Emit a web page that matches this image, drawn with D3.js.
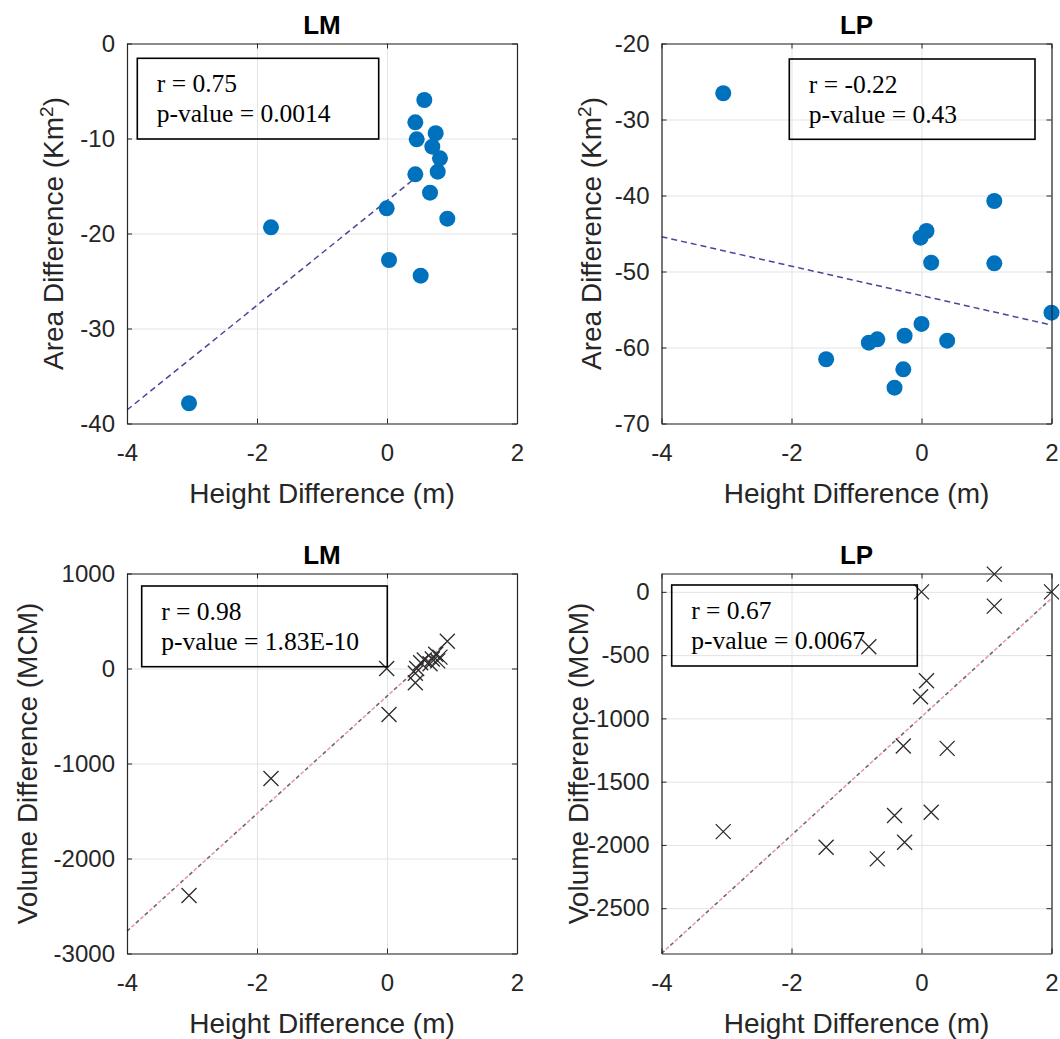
<!DOCTYPE html>
<html>
<head>
<meta charset="utf-8">
<script src="https://cdn.jsdelivr.net/npm/d3@7"></script>
<style>
  body { margin: 0; background: #fff; }
  svg { display: block; }
</style>
</head>
<body>
<svg id="chart" width="1060" height="1039"></svg>
<script>
// ---------- DATA ----------
// LM station
const lmHeight = [0.574, 0.436, 0.749, 0.457, 0.697, 0.815, 0.78, 0.436, 0.662, -0.005, 0.928, -1.785, 0.031, 0.518, -3.046];
const lmArea   = [-5.95, -8.3, -9.45, -10.09, -10.86, -12.09, -13.49, -13.77, -15.7, -17.35, -18.44, -19.35, -22.79, -24.44, -37.87];
const lmVolume = [90, -50, 150, 0, 100, 120, 80, -150, 50, 0, 287, -1158, -484, 60, -2389];
// LP station
const lpHeight = [-3.05, 1.12, 1.12, 0.077, -0.015, 0.0, 0.149, 2.0, -0.26, 0.395, -0.68, -0.81, -1.467, -0.28, -0.415];
const lpArea   = [-26.55, -40.72, -48.92, -44.67, -45.55, -56.9, -48.84, -55.42, -58.45, -59.1, -58.93, -59.37, -61.55, -62.87, -65.29];
const lpVolume = [-1895, 140, -113, -703, -829, 0, -1742, 0, -1979, -1237, -2110, -434, -2018, -1218, -1768];

// fitted regression line endpoints [x, y]
const lmAreaFit = [[-4, -38.58], [0.5, -13.8]];
const lpAreaFit = [[-4, -45.42], [2, -57.04]];
const lmVolFit  = [[-4, -2765], [0.93, 284]];
const lpVolFit  = [[-4, -2858], [2, -52]];

// statistics text
const lmAreaStats = ["r = 0.75", "p-value = 0.0014"];
const lpAreaStats = ["r = -0.22", "p-value = 0.43"];
const lmVolStats  = ["r = 0.98", "p-value = 1.83E-10"];
const lpVolStats  = ["r = 0.67", "p-value = 0.0067"];

// ticks
const xTicks = [-4, -2, 0, 2];
const lmAreaTicks = [-40, -30, -20, -10, 0];
const lpAreaTicks = [-70, -60, -50, -40, -30, -20];
const lmVolTicks = [-3000, -2000, -1000, 0, 1000];
const lpVolTicks = [-2500, -2000, -1500, -1000, -500, 0];

const titles = ["LM", "LP"];
const xLabel = "Height Difference (m)";

// ---------- DRAW ----------
const svg = d3.select("#chart");
const axisCol = "#262626";
const gridCol = "#e3e3e3";
const fontSans = "Arial, 'Liberation Sans', sans-serif";
const fontSerif = "'Times New Roman', 'Liberation Serif', serif";
const fmt = d => String(d);   // plain hyphen-minus like MATLAB

function panel(cfg) {
  const {x0, y0, w, h, xDom, yDom, yTicks, xs, ys, fit, stats, box, title, yLabel, yLabelX, marker, fitStyle} = cfg;
  const g = svg.append("g");
  const x = d3.scaleLinear().domain(xDom).range([x0, x0 + w]);
  const y = d3.scaleLinear().domain(yDom).range([y0 + h, y0]);

  // grid
  g.append("g").attr("transform", `translate(0,${y0 + h})`)
    .call(d3.axisBottom(x).tickValues(xTicks).tickSize(-h).tickFormat(""))
    .call(s => { s.select(".domain").remove(); s.selectAll("line").attr("stroke", gridCol).attr("stroke-width", 1); });
  g.append("g").attr("transform", `translate(${x0},0)`)
    .call(d3.axisLeft(y).tickValues(yTicks).tickSize(-w).tickFormat(""))
    .call(s => { s.select(".domain").remove(); s.selectAll("line").attr("stroke", gridCol).attr("stroke-width", 1); });

  // fit line
  const lineGen = d3.line().x(d => x(d[0])).y(d => y(d[1]));
  if (fitStyle === "blue") {
    g.append("path").datum(fit).attr("d", lineGen).attr("fill", "none")
      .attr("stroke", "#47479a").attr("stroke-width", 1.5).attr("stroke-dasharray", "6,4");
  } else {
    g.append("path").datum(fit).attr("d", lineGen).attr("fill", "none")
      .attr("stroke", "#f09aaa").attr("stroke-width", 1.6).attr("stroke-dasharray", "4,8").attr("stroke-dashoffset", 6);
    g.append("path").datum(fit).attr("d", lineGen).attr("fill", "none")
      .attr("stroke", "#6a6a6a").attr("stroke-width", 1.6).attr("stroke-dasharray", "4,8");
  }

  // markers
  const pts = xs.map((v, i) => [v, ys[i]]);
  if (marker === "circle") {
    g.selectAll("circle.pt").data(pts).join("circle").attr("class", "pt")
      .attr("cx", d => x(d[0])).attr("cy", d => y(d[1])).attr("r", 8)
      .attr("fill", "#0072BD");
  } else {
    const s = 7.5;
    g.selectAll("path.pt").data(pts).join("path").attr("class", "pt")
      .attr("d", d => {
        const cx = x(d[0]), cy = y(d[1]);
        return `M${cx - s},${cy - s}L${cx + s},${cy + s}M${cx - s},${cy + s}L${cx + s},${cy - s}`;
      })
      .attr("stroke", "#2b2b2b").attr("stroke-width", 1.3).attr("fill", "none");
  }

  // axes (box with inward ticks)
  const tickLen = 5;
  const styleAxis = s => {
    s.select(".domain").attr("stroke", axisCol).attr("stroke-width", 1.2);
    s.selectAll(".tick line").attr("stroke", axisCol).attr("stroke-width", 1);
    s.selectAll("text").attr("fill", axisCol).attr("font-family", fontSans).attr("font-size", 24);
  };
  g.append("g").attr("transform", `translate(0,${y0 + h})`)
    .call(d3.axisBottom(x).tickValues(xTicks).tickSizeInner(-tickLen).tickSizeOuter(0).tickPadding(20).tickFormat(fmt))
    .call(styleAxis);
  g.append("g").attr("transform", `translate(0,${y0})`)
    .call(d3.axisTop(x).tickValues(xTicks).tickSizeInner(-tickLen).tickSizeOuter(0).tickFormat(""))
    .call(styleAxis);
  g.append("g").attr("transform", `translate(${x0},0)`)
    .call(d3.axisLeft(y).tickValues(yTicks).tickSizeInner(-tickLen).tickSizeOuter(0).tickPadding(12).tickFormat(fmt))
    .call(styleAxis);
  g.append("g").attr("transform", `translate(${x0 + w},0)`)
    .call(d3.axisRight(y).tickValues(yTicks).tickSizeInner(-tickLen).tickSizeOuter(0).tickFormat(""))
    .call(styleAxis);

  // title
  g.append("text").attr("x", x0 + w / 2).attr("y", y0 - 9.5).attr("text-anchor", "middle")
    .attr("font-family", fontSans).attr("font-weight", "bold").attr("font-size", 26).attr("fill", "#000")
    .text(title);

  // x label
  g.append("text").attr("x", x0 + w / 2).attr("y", y0 + h + 79).attr("text-anchor", "middle")
    .attr("font-family", fontSans).attr("font-size", 28).attr("fill", axisCol).text(xLabel);

  // y label
  const yl = g.append("text")
    .attr("transform", `translate(${yLabelX},${y0 + h / 2}) rotate(-90)`)
    .attr("text-anchor", "middle")
    .attr("font-family", fontSans).attr("font-size", 28).attr("fill", axisCol);
  yLabel.forEach(part => {
    const t = yl.append("tspan").text(part.t);
    if (part.sup) t.attr("baseline-shift", "super").attr("font-size", 19);
  });

  // stats box
  g.append("rect").attr("x", box[0]).attr("y", box[1]).attr("width", box[2]).attr("height", box[3])
    .attr("fill", "none").attr("stroke", "#000").attr("stroke-width", 1.6);
  stats.forEach((s, i) => {
    g.append("text").attr("x", box[0] + 19.5).attr("y", box[1] + 33.5 + i * 30)
      .attr("font-family", fontSerif).attr("font-size", 25.5).attr("fill", "#000").text(s);
  });
}

const areaLabel = [{t: "Area Difference (Km"}, {t: "2", sup: true}, {t: ")"}];
const volLabel = [{t: "Volume Difference (MCM)"}];

panel({x0: 127, y0: 43.5, w: 390, h: 380, xDom: [-4, 2], yDom: [-40, 0], yTicks: lmAreaTicks,
  xs: lmHeight, ys: lmArea, fit: lmAreaFit, stats: lmAreaStats, box: [137.3, 58.3, 241.4, 80.7],
  title: titles[0], yLabel: areaLabel, yLabelX: 63, marker: "circle", fitStyle: "blue"});
panel({x0: 661.5, y0: 43.5, w: 390, h: 380, xDom: [-4, 2], yDom: [-70, -20], yTicks: lpAreaTicks,
  xs: lpHeight, ys: lpArea, fit: lpAreaFit, stats: lpAreaStats, box: [789.3, 59, 245.7, 80.3],
  title: titles[1], yLabel: areaLabel, yLabelX: 601, marker: "circle", fitStyle: "blue"});
panel({x0: 127, y0: 573.5, w: 390, h: 380, xDom: [-4, 2], yDom: [-3000, 1000], yTicks: lmVolTicks,
  xs: lmHeight, ys: lmVolume, fit: lmVolFit, stats: lmVolStats, box: [141.7, 586, 245.6, 80.7],
  title: titles[0], yLabel: volLabel, yLabelX: 37, marker: "x", fitStyle: "redgray"});
panel({x0: 661.5, y0: 573.5, w: 390, h: 380, xDom: [-4, 2], yDom: [-2858, 145], yTicks: lpVolTicks,
  xs: lpHeight, ys: lpVolume, fit: lpVolFit, stats: lpVolStats, box: [671.7, 585, 245.6, 81],
  title: titles[1], yLabel: volLabel, yLabelX: 588, marker: "x", fitStyle: "redgray"});
</script>
</body>
</html>
